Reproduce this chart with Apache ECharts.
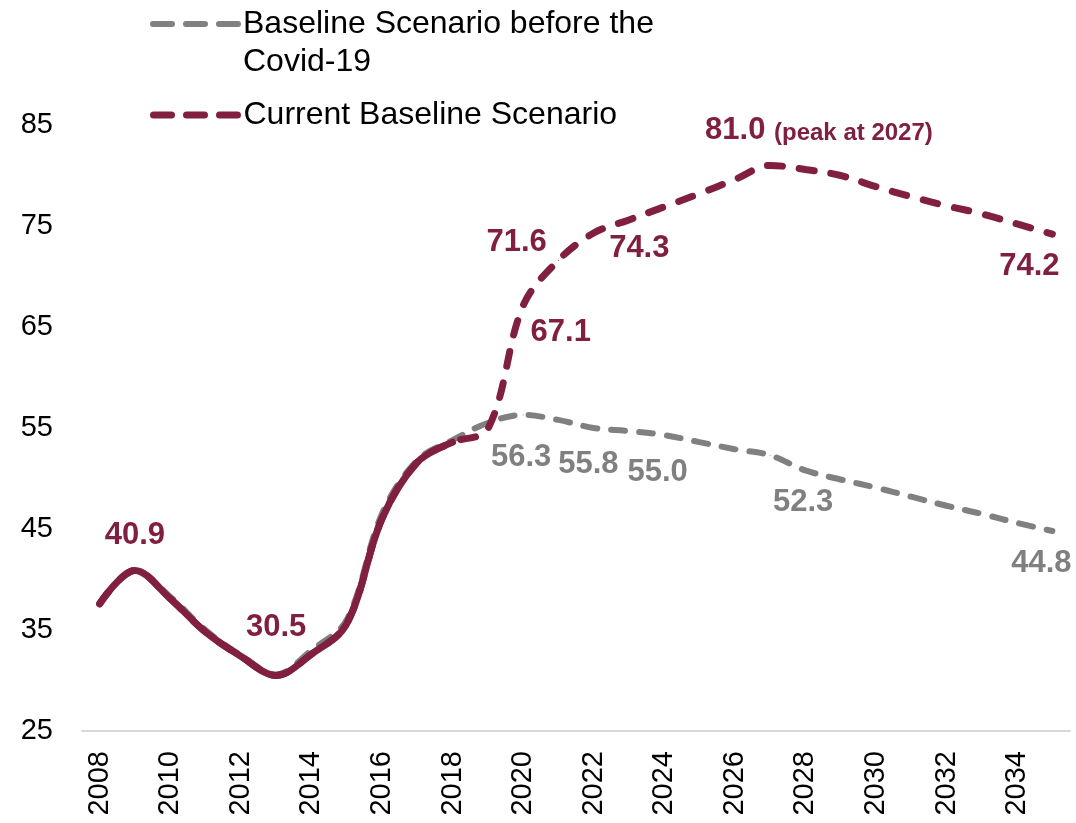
<!DOCTYPE html>
<html>
<head>
<meta charset="utf-8">
<title>Debt scenarios</title>
<script src="https://cdn.jsdelivr.net/npm/echarts@6/dist/echarts.min.js"></script>
<style>
  html, body { margin: 0; padding: 0; background: #ffffff; }
  #chart { width: 1076px; height: 823px; }
</style>
</head>
<body>
<div id="chart"></div>
<script>
// Years on the category axis
const years = ['2008', '2009', '2010', '2011', '2012', '2013', '2014', '2015', '2016', '2017',
  '2018', '2019', '2020', '2021', '2022', '2023', '2024', '2025', '2026', '2027',
  '2028', '2029', '2030', '2031', '2032', '2033', '2034', '2035'];

// Baseline scenario before the Covid-19
const preCovidBaseline = [37.6, 40.9, 38.3, 35.0, 32.5, 30.6, 33.0, 36.0, 46.5, 51.8,
  53.8, 55.5, 56.3, 55.8, 55.0, 54.7, 54.3, 53.6, 52.9, 52.3,
  50.8, 49.9, 49.1, 48.2, 47.3, 46.5, 45.6, 44.8];

// Current baseline scenario
const currentBaseline = [37.6, 40.9, 38.1, 34.8, 32.4, 30.5, 32.6, 35.6, 46.0, 51.6,
  53.6, 54.9, 67.1, 71.6, 74.3, 75.6, 76.9, 78.2, 79.6, 81.0,
  80.6, 80.0, 78.9, 77.9, 77.0, 76.2, 75.2, 74.2];

// Last observed year (solid part of the current scenario)
const lastActualYear = '2018';

// Value axis ticks
const yMin = 25;
const yMax = 85;
const yStep = 10;

const NAME_PRE = 'Baseline Scenario before the Covid-19';
const NAME_CUR = 'Current Baseline Scenario';
const NAME_HIST = 'Current Baseline Scenario (actual)';

const MAROON = '#801F40';
const GREY = '#808080';
const FONT = "'Liberation Sans', Arial, sans-serif";

// Where each value label sits relative to its point
const labelSpots = {
  history: {
    '2009': { position: 'top', distance: 19 },
    '2013': { position: 'top', distance: 32 }
  },
  current: {
    '2020': { position: 'right', distance: 7, offset: [0, 27] },
    '2021': { position: 'left', distance: 11, offset: [0, -18] },
    '2022': { position: 'right', distance: 15, offset: [0, 15] },
    '2027': { position: 'top', distance: 19, align: 'left', offset: [-65, 0], peak: true },
    '2035': { position: 'bottom', distance: 16, offset: [-23, 0] }
  },
  pre: {
    '2020': { position: 'bottom', distance: 27, offset: [-2, 0] },
    '2021': { position: 'bottom', distance: 29, offset: [30, 0] },
    '2022': { position: 'bottom', distance: 28, offset: [64, 0] },
    '2027': { position: 'bottom', distance: 31, offset: [33, 0] },
    '2035': { position: 'bottom', distance: 16, offset: [-11, 0] }
  }
};

function withLabels(values, spots, color) {
  return values.map(function (v, i) {
    const spot = spots[years[i]];
    if (v === '-' || !spot) return v;
    const label = {
      show: true,
      position: spot.position,
      distance: spot.distance,
      offset: spot.offset || [0, 0],
      color: color,
      fontFamily: FONT,
      fontWeight: 'bold',
      fontSize: 31,
      lineHeight: 31
    };
    if (spot.align) label.align = spot.align;
    if (spot.peak) {
      label.formatter = function (p) {
        return '{a|' + p.value.toFixed(1) + ' }{b|(peak at ' + p.name + ')}';
      };
      label.rich = {
        a: { color: color, fontFamily: FONT, fontWeight: 'bold', fontSize: 31, lineHeight: 31 },
        b: { color: color, fontFamily: FONT, fontWeight: 'bold', fontSize: 24, lineHeight: 31, verticalAlign: 'bottom', padding: [0, 0, 1, 0] }
      };
    } else {
      label.formatter = function (p) { return p.value.toFixed(1); };
    }
    return { value: v, symbol: 'circle', symbolSize: 1, itemStyle: { color: color }, label: label };
  });
}

const cutIndex = years.indexOf(lastActualYear);
const historyValues = currentBaseline.map(function (v, i) { return i <= cutIndex ? v : '-'; });

// Legend entries: a dashed stroke with no marker
const legendCommon = {
  left: 150,
  padding: 0,
  itemWidth: 85,
  itemHeight: 14,
  selectedMode: false,
  itemStyle: { color: 'rgba(0,0,0,0)', borderWidth: 0 }
};

const chart = echarts.init(document.getElementById('chart'), null, { renderer: 'canvas' });

chart.setOption({
  animation: false,
  backgroundColor: '#ffffff',
  textStyle: { fontFamily: FONT },
  legend: [
    Object.assign({}, legendCommon, {
      data: [NAME_PRE],
      top: -33,
      // leading blank line keeps the marker beside the first line of text
      formatter: function (name) { return '\n' + name.replace(' Covid', '\nCovid'); },
      textStyle: { color: '#000', fontFamily: FONT, fontSize: 32, lineHeight: 38 },
      lineStyle: { width: 6, type: [19, 14], cap: 'round', color: GREY }
    }),
    Object.assign({}, legendCommon, {
      data: [NAME_CUR],
      top: 96,
      textStyle: { color: '#000', fontFamily: FONT, fontSize: 32, lineHeight: 38 },
      lineStyle: { width: 7, type: [18, 15], cap: 'round', color: MAROON }
    })
  ],
  grid: { left: 82, right: 6, top: 125, bottom: 92 },
  xAxis: {
    type: 'category',
    data: years,
    boundaryGap: true,
    axisLine: { show: true, lineStyle: { color: '#d9d9d9', width: 2 } },
    axisTick: { show: false },
    splitLine: { show: false },
    axisLabel: { interval: 1, rotate: 90, margin: 20, fontSize: 29, color: '#000', fontFamily: FONT }
  },
  yAxis: {
    type: 'value',
    min: yMin,
    max: yMax,
    interval: yStep,
    axisLine: { show: false },
    axisTick: { show: false },
    splitLine: { show: false },
    axisLabel: { margin: 29, fontSize: 29, color: '#000', fontFamily: FONT }
  },
  series: [
    {
      name: NAME_PRE,
      type: 'line',
      smooth: 0.35,
      symbol: 'none',
      data: withLabels(preCovidBaseline, labelSpots.pre, GREY),
      lineStyle: { color: GREY, width: 6, type: [14, 14], cap: 'round' },
      itemStyle: { color: GREY }
    },
    {
      name: NAME_CUR,
      type: 'line',
      smooth: 0.35,
      symbol: 'none',
      data: withLabels(currentBaseline, labelSpots.current, MAROON),
      lineStyle: { color: MAROON, width: 7, type: [15, 17], cap: 'round' },
      itemStyle: { color: MAROON }
    },
    {
      name: NAME_HIST,
      type: 'line',
      smooth: 0.35,
      symbol: 'none',
      data: withLabels(historyValues, labelSpots.history, MAROON),
      lineStyle: { color: MAROON, width: 7, type: 'solid', cap: 'round', join: 'round' },
      itemStyle: { color: MAROON }
    }
  ]
});
</script>
</body>
</html>
